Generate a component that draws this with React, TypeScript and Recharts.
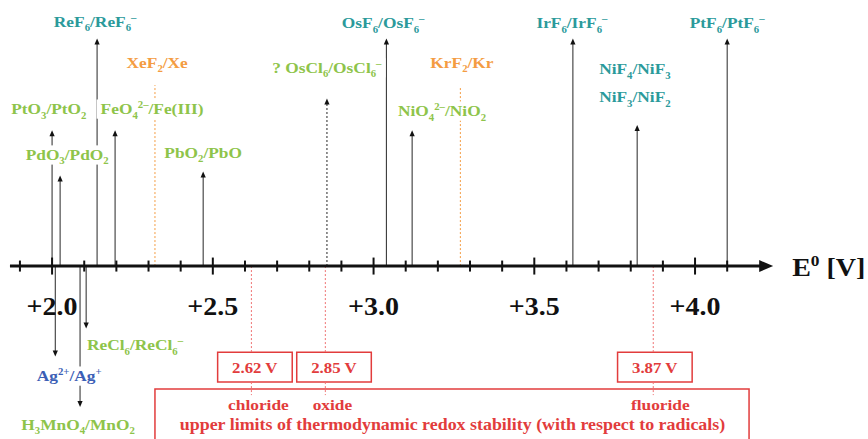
import { ComposedChart, ReferenceArea, ReferenceDot, ReferenceLine, Scatter, XAxis, YAxis } from "recharts";

const WIDTH = 868;
const HEIGHT = 439;
const SERIF = '"Liberation Serif", "Times New Roman", serif';
const STRETCH = 1.12; // the source picture is a little wide

const COLORS: Record<string, string> = {
  fluoride: "#2b9a9b",
  oxide: "#8ec44a",
  noble: "#f49c42",
  silver: "#3c5fb6",
  limit: "#e23c3c",
  limitLine: "#ef7373",
  arrow: "#3a3a3a",
};

// couples drawn as arrows rising from the E0 axis (tip = height level)
const UP_COUPLES = [
  "PtO_3/PtO_2",
  "PdO_3/PdO_2",
  "ReF_6/ReF_6^–",
  "FeO_4^{2–}/Fe(III)",
  "PbO_2/PbO",
  "? OsCl_6/OsCl_6^–",
  "OsF_6/OsF_6^–",
  "NiO_4^{2–}/NiO_2",
  "IrF_6/IrF_6^–",
  "NiF_4/NiF_3",
  "NiF_3/NiF_2",
  "PtF_6/PtF_6^–",
];
const UP_E0 = [2.0, 2.025, 2.14, 2.196, 2.47, 2.855, 3.04, 3.12, 3.62, 3.82, 3.82, 4.1];
const UP_TIP = [1.02, 0.68, 1.71, 1.02, 0.71, 1.26, 1.71, 1.02, 1.71, null, 1.06, 1.71];
const UP_KIND = ["oxide", "oxide", "fluoride", "oxide", "oxide", "chloride", "fluoride", "oxide", "fluoride", "fluoride", "fluoride", "fluoride"];
const UP_LABEL_E = [1.99, 2.047, 2.134, 2.311, 2.47, 2.855, 3.03, 3.213, 3.617, 3.813, 3.813, 4.1];
const UP_LABEL_LEVEL = [1.18, 0.835, 1.835, 1.18, 0.85, 1.49, 1.825, 1.165, 1.825, 1.48, 1.27, 1.825];

// couples below the axis, arrows pointing down
const DOWN_COUPLES = ["Ag^{2+}/Ag^+", "ReCl_6/ReCl_6^–", "H_3MnO_4/MnO_2"];
const DOWN_E0 = [2.01, 2.106, 2.087];
const DOWN_TIP = [-0.68, -0.47, -1.06];
const DOWN_KIND = ["silver", "oxide", "oxide"];
const DOWN_LABEL_E = [2.053, 2.258, 2.081];
const DOWN_LABEL_LEVEL = [-0.827, -0.594, -1.195];

// noble gas fluorides, dotted markers
const NOBLE_COUPLES = ["XeF_2/Xe", "KrF_2/Kr"];
const NOBLE_E0 = [2.32, 3.27];
const NOBLE_TOP = [1.36, 1.35];
const NOBLE_LABEL_E = [2.327, 3.275];
const NOBLE_LABEL_LEVEL = [1.53, 1.53];

// upper limits of thermodynamic redox stability
const LIMIT_NAMES = ["chloride", "oxide", "fluoride"];
const LIMIT_E0 = [2.62, 2.85, 3.87];
const LIMIT_CAPTION = "upper limits of thermodynamic redox stability (with respect to radicals)";
const BOX_SHIFT = [0.011, 0.027, 0.005];

const TICKS = [1.9, 2.0, 2.1, 2.2, 2.3, 2.4, 2.5, 2.6, 2.7, 2.8, 2.9, 3.0, 3.1, 3.2, 3.3, 3.4, 3.5, 3.6, 3.7, 3.8, 3.9, 4.0, 4.1];
const MAJOR_TICKS = [2.0, 2.5, 3.0, 3.5, 4.0];
const AXIS_RANGE = [1.869, 4.243];
const AXIS_TITLE = "E^0 [V]";

const X_DOMAIN = [1.838, 4.538];
const Y_DOMAIN = [-1.3, 2];

type Piece = { t: string; mode: number };

const parseFormula = (s: string): Piece[] => {
  const out: Piece[] = [];
  let buf = "";
  let i = 0;
  while (i < s.length) {
    const c = s[i];
    if (c === "_" || c === "^") {
      if (buf) out.push({ t: buf, mode: 0 });
      buf = "";
      let t = "";
      if (s[i + 1] === "{") {
        const j = s.indexOf("}", i + 2);
        t = s.slice(i + 2, j);
        i = j + 1;
      } else {
        t = s[i + 1];
        i += 2;
      }
      out.push({ t, mode: c === "_" ? -1 : 1 });
    } else {
      buf += c;
      i++;
    }
  }
  if (buf) out.push({ t: buf, mode: 0 });
  return out;
};

let measureCtx: CanvasRenderingContext2D | null = null;
const textWidth = (t: string, size: number) => {
  if (!measureCtx) measureCtx = document.createElement("canvas").getContext("2d");
  if (!measureCtx) return t.length * size * 0.5;
  measureCtx.font = `bold ${size}px ${SERIF}`;
  return measureCtx.measureText(t).width;
};

type FormulaProps = {
  x: number;
  y: number;
  text: string;
  size: number;
  color: string;
  anchor?: string;
  bg?: boolean;
};

const Formula = ({ x, y, text, size, color, anchor = "middle", bg = true }: FormulaProps) => {
  const pieces = parseFormula(text);
  const small = size * 0.62;
  const raw = pieces.reduce((sum, p) => sum + textWidth(p.t, p.mode === 0 ? size : small), 0);
  const total = raw * STRETCH;
  const left = anchor === "middle" ? x - total / 2 : anchor === "start" ? x : x - total;
  const base = y + size * 0.33;
  let shift = 0;
  return (
    <g>
      {bg && <rect x={left - 4} y={y - size * 0.62} width={total + 8} height={size * 1.24} fill="#fff" />}
      <text
        transform={`translate(${left},${base}) scale(${STRETCH},1)`}
        fill={color}
        fontFamily={SERIF}
        fontWeight="bold"
        fontSize={size}
        style={{ whiteSpace: "pre" }}
      >
        {pieces.map((p, i) => {
          const off = p.mode < 0 ? size * 0.28 : p.mode > 0 ? -size * 0.4 : 0;
          const dy = off - shift;
          shift = off;
          return (
            <tspan key={i} dy={dy} fontSize={p.mode === 0 ? size : small}>
              {p.t}
            </tspan>
          );
        })}
      </text>
    </g>
  );
};

const arrowShape = (dash?: string) => (p: any) => {
  const { x1, y1, x2, y2 } = p;
  const dir = y2 < y1 ? -1 : 1;
  const len = 6;
  const half = 2.6;
  return (
    <g>
      <line x1={x1} y1={y1} x2={x2} y2={y2 - dir * len * 0.5} stroke={COLORS.arrow} strokeWidth={1.1} strokeDasharray={dash} />
      <polygon points={`${x2},${y2} ${x2 - half},${y2 - dir * len} ${x2 + half},${y2 - dir * len}`} fill="#111" />
    </g>
  );
};

const axisShape = (p: any) => {
  const { x1, y1, x2, y2 } = p;
  return (
    <g>
      <line x1={x1} y1={y1} x2={x2 - 10} y2={y2} stroke="#111" strokeWidth={3} />
      <polygon points={`${x2},${y2} ${x2 - 14},${y2 - 6} ${x2 - 14},${y2 + 6}`} fill="#111" />
    </g>
  );
};

const TickMark = (p: any) => {
  const { cx, cy, payload } = p;
  const h = payload.major ? 8.5 : 5.5;
  return (
    <g>
      <line x1={cx} x2={cx} y1={cy - h} y2={cy + h} stroke="#111" strokeWidth={2} />
      {payload.major && (
        <Formula x={cx} y={cy + 41} text={`+${payload.x.toFixed(1)}`} size={25} color="#111" bg={false} />
      )}
    </g>
  );
};

type LabelItem = {
  x: number;
  y: number;
  text: string;
  color: string;
  size: number;
  bg: boolean;
  anchor?: string;
};

const labelData: LabelItem[] = [
  ...UP_COUPLES.map((text, i) => ({
    x: UP_LABEL_E[i],
    y: UP_LABEL_LEVEL[i],
    text,
    color: UP_KIND[i] === "fluoride" ? COLORS.fluoride : COLORS.oxide,
    size: 15.5,
    bg: true,
  })),
  ...DOWN_COUPLES.map((text, i) => ({
    x: DOWN_LABEL_E[i],
    y: DOWN_LABEL_LEVEL[i],
    text,
    color: COLORS[DOWN_KIND[i]],
    size: 15.5,
    bg: true,
  })),
  ...NOBLE_COUPLES.map((text, i) => ({
    x: NOBLE_LABEL_E[i],
    y: NOBLE_LABEL_LEVEL[i],
    text,
    color: COLORS.noble,
    size: 15.5,
    bg: true,
  })),
  { x: AXIS_RANGE[1] + 0.059, y: -0.015, text: AXIS_TITLE, color: "#111", size: 25, bg: false, anchor: "start" },
  ...LIMIT_E0.map((v, i) => ({ x: v + BOX_SHIFT[i], y: -0.765, text: `${v.toFixed(2)} V`, color: COLORS.limit, size: 15, bg: false })),
  ...LIMIT_NAMES.map((text, i) => ({ x: LIMIT_E0[i] + 0.022, y: -1.045, text, color: COLORS.limit, size: 15.5, bg: false })),
  { x: 3.247, y: -1.195, text: LIMIT_CAPTION, color: COLORS.limit, size: 16, bg: false },
];

const tickData = TICKS.map((v) => ({ x: v, y: 0, major: MAJOR_TICKS.includes(v) }));

export default function App() {
  return (
    <div style={{ width: WIDTH, height: HEIGHT, background: "#fff" }}>
      <style>{"body{margin:0}"}</style>
      <ComposedChart width={WIDTH} height={HEIGHT} margin={{ top: 0, right: 0, bottom: 0, left: 0 }}>
        <XAxis type="number" dataKey="x" domain={X_DOMAIN} allowDataOverflow hide />
        <YAxis type="number" dataKey="y" domain={Y_DOMAIN} allowDataOverflow hide />

        <ReferenceArea
          x1={2.32}
          x2={4.168}
          y1={-0.925}
          y2={-1.34}
          ifOverflow="visible"
          fill="#fff"
          fillOpacity={1}
          stroke={COLORS.limit}
          strokeWidth={1.5}
        />
        {LIMIT_E0.map((v, i) => (
          <ReferenceArea
            key={`box-${v}`}
            x1={v + BOX_SHIFT[i] - 0.116}
            x2={v + BOX_SHIFT[i] + 0.116}
            y1={-0.647}
            y2={-0.872}
            ifOverflow="visible"
            fill="#fff"
            fillOpacity={1}
            stroke={COLORS.limit}
            strokeWidth={1.5}
          />
        ))}
        {LIMIT_E0.map((v) => (
          <ReferenceLine
            key={`lim-a-${v}`}
            segment={[{ x: v, y: 0 }, { x: v, y: -0.647 }]}
            ifOverflow="visible"
            stroke={COLORS.limitLine}
            strokeDasharray="2 2"
            strokeWidth={1}
          />
        ))}
        {LIMIT_E0.map((v) => (
          <ReferenceLine
            key={`lim-b-${v}`}
            segment={[{ x: v, y: -0.872 }, { x: v, y: -0.97 }]}
            ifOverflow="visible"
            stroke={COLORS.limitLine}
            strokeDasharray="2 2"
            strokeWidth={1}
          />
        ))}
        {NOBLE_E0.map((v, i) => (
          <ReferenceLine
            key={`noble-${v}`}
            segment={[{ x: v, y: 0 }, { x: v, y: NOBLE_TOP[i] }]}
            ifOverflow="visible"
            stroke={COLORS.noble}
            strokeDasharray="2 2"
            strokeWidth={1}
          />
        ))}
        {UP_E0.map((v, i) =>
          UP_TIP[i] === null ? null : (
            <ReferenceLine
              key={`up-${i}`}
              segment={[{ x: v, y: 0 }, { x: v, y: UP_TIP[i] as number }]}
              ifOverflow="visible"
              shape={arrowShape(UP_KIND[i] === "chloride" ? "2 2" : undefined)}
            />
          )
        )}
        {DOWN_E0.map((v, i) => (
          <ReferenceLine
            key={`down-${i}`}
            segment={[{ x: v, y: 0 }, { x: v, y: DOWN_TIP[i] }]}
            ifOverflow="visible"
            shape={arrowShape()}
          />
        ))}
        <ReferenceLine
          segment={[{ x: AXIS_RANGE[0], y: 0 }, { x: AXIS_RANGE[1], y: 0 }]}
          ifOverflow="visible"
          shape={axisShape}
        />

        <Scatter data={tickData} dataKey="y" shape={TickMark} isAnimationActive={false} />

        {labelData.map((item, i) => (
          <ReferenceDot
            key={`label-${i}`}
            x={item.x}
            y={item.y}
            r={1}
            ifOverflow="visible"
            shape={(p: any) => (
              <Formula
                x={p.cx}
                y={p.cy}
                text={item.text}
                size={item.size}
                color={item.color}
                anchor={item.anchor}
                bg={item.bg}
              />
            )}
          />
        ))}
      </ComposedChart>
    </div>
  );
}
